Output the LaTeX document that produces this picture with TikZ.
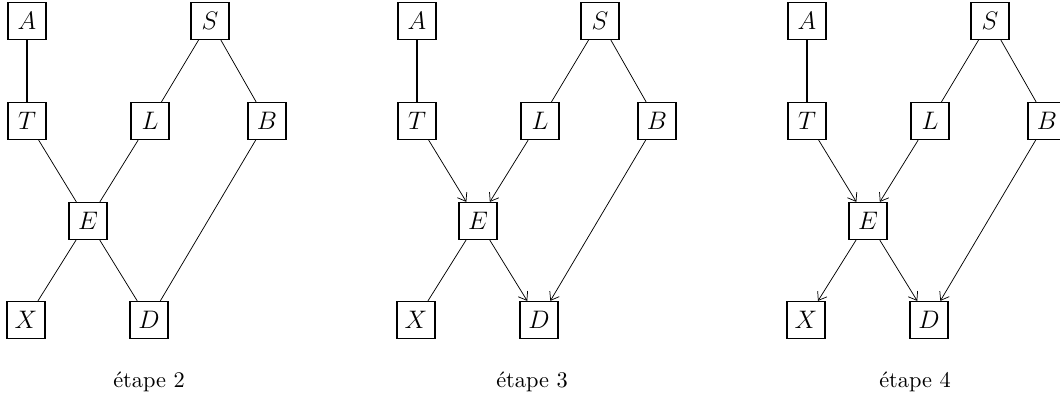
\documentclass[tikz,border=0pt]{standalone}
\usetikzlibrary{arrows.meta}
\begin{document}
\begin{tikzpicture}[x=0.474pt,y=-0.474pt,
  var/.style={draw, line width=0.6pt, minimum width=18pt, minimum height=17.5pt,
              inner sep=2.5pt, font=\large},
  link/.style={line width=0.35pt},
  strong/.style={line width=0.6pt},
  dir/.style={link, -{Straight Barb[length=3.6pt,width=5.2pt,line width=0.35pt]}},
  caption/.style={font=\fontsize{10.6}{13}\selectfont}]
\useasboundingbox (0,0) rectangle (1060,410);

% stage 2: only the skeleton, no orientation yet
\begin{scope}
  \node[var] (A1) at (27,21)   {$A$};
  \node[var] (S1) at (210,21)  {$S$};
  \node[var] (T1) at (27,121)  {$T$};
  \node[var] (L1) at (150,121) {$L$};
  \node[var] (B1) at (267,121) {$B$};
  \node[var] (E1) at (88,221)  {$E$};
  \node[var] (X1) at (26,320)  {$X$};
  \node[var] (D1) at (149,320) {$D$};
  \draw[strong] (A1) -- (T1);
  \draw[link] (S1) -- (L1);
  \draw[link] (S1) -- (B1);
  \draw[link] (T1) -- (E1);
  \draw[link] (L1) -- (E1);
  \draw[link] (B1) -- (D1);
  \draw[link] (E1) -- (X1);
  \draw[link] (E1) -- (D1);
\end{scope}

% stage 3: v-structures oriented
\begin{scope}[shift={(390,0)}]
  \node[var] (A2) at (27,21)   {$A$};
  \node[var] (S2) at (210,21)  {$S$};
  \node[var] (T2) at (27,121)  {$T$};
  \node[var] (L2) at (150,121) {$L$};
  \node[var] (B2) at (267,121) {$B$};
  \node[var] (E2) at (88,221)  {$E$};
  \node[var] (X2) at (26,320)  {$X$};
  \node[var] (D2) at (149,320) {$D$};
  \draw[strong] (A2) -- (T2);
  \draw[link] (S2) -- (L2);
  \draw[link] (S2) -- (B2);
  \draw[dir] (T2) -- (E2);
  \draw[dir] (L2) -- (E2);
  \draw[dir] (B2) -- (D2);
  \draw[link] (E2) -- (X2);
  \draw[dir] (E2) -- (D2);
\end{scope}

% stage 4: propagated orientation
\begin{scope}[shift={(780,0)}]
  \node[var] (A3) at (27,21)   {$A$};
  \node[var] (S3) at (210,21)  {$S$};
  \node[var] (T3) at (27,121)  {$T$};
  \node[var] (L3) at (150,121) {$L$};
  \node[var] (B3) at (267,121) {$B$};
  \node[var] (E3) at (88,221)  {$E$};
  \node[var] (X3) at (26,320)  {$X$};
  \node[var] (D3) at (149,320) {$D$};
  \draw[strong] (A3) -- (T3);
  \draw[link] (S3) -- (L3);
  \draw[link] (S3) -- (B3);
  \draw[dir] (T3) -- (E3);
  \draw[dir] (L3) -- (E3);
  \draw[dir] (B3) -- (D3);
  \draw[dir] (E3) -- (X3);
  \draw[dir] (E3) -- (D3);
\end{scope}

% captions under each stage
\node[caption] (c1) at (149,382) {étape 2};
\node[caption] (c2) at (532,382) {étape 3};
\node[caption] (c3) at (915,382) {étape 4};
\end{tikzpicture}
\end{document}
